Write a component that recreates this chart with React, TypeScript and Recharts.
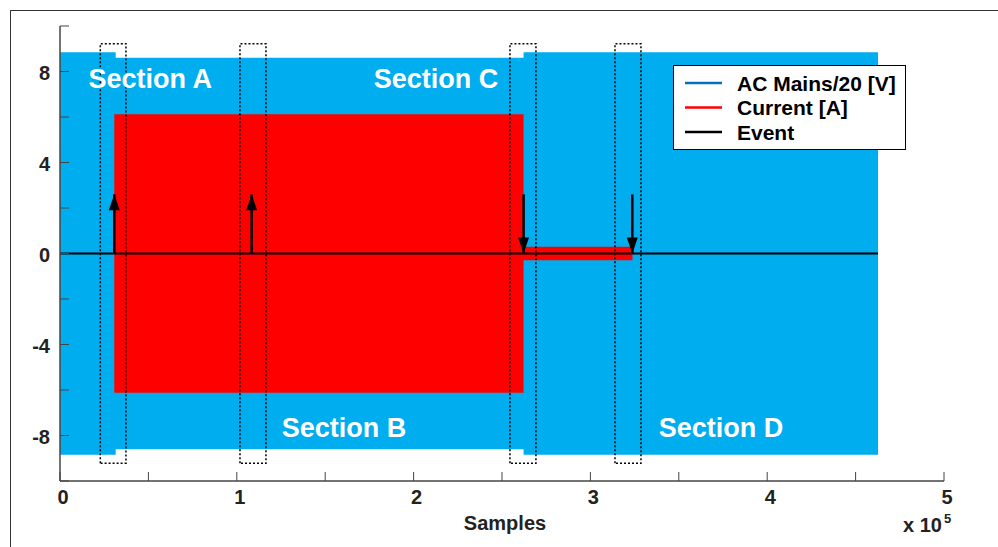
import React from "react";
import { ComposedChart, Area, Line, Scatter, XAxis, YAxis, Legend } from "recharts";

const FONT = '"Liberation Sans", Arial, Helvetica, sans-serif';
const AXIS = "#444444";
const MAINS_FILL = "#00AEEF";
const CURRENT_FILL = "#FF0000";

// sample index where the envelope of each trace changes
const sampleX = [0, 30700, 31500, 262200, 323800, 462700];
// envelope of the mains trace (V/20)
const mainsAmp = [8.85, 8.85, 8.6, 8.85, 8.85, 8.85];
// envelope of the load current (A)
const currentAmp: (number | null)[] = [null, 6.12, 6.12, 0.3, 0.3, null];

// event trace: flat line plus arrows (1 = switch on, -1 = switch off)
const eventLineX = [0, 462700];
const eventX = [30700, 108400, 262200, 323700];
const eventDir = [1, 1, -1, -1];
const eventLen = 2.6;

// dotted boxes around each event
const boxX1 = [22800, 101800, 254500, 313900];
const boxX2 = [37300, 116500, 269200, 328600];
const boxHalf = 9.22;

const sectionNames = ["Section A", "Section B", "Section C", "Section D"];
const sectionX = [51000, 160600, 212700, 373900];
const sectionY = [7.71, -7.65, 7.71, -7.65];

const xTicks = [0, 50000, 100000, 150000, 200000, 250000, 300000, 350000, 400000, 450000, 500000];
const yTicks = [-10, -8, -6, -4, -2, 0, 2, 4, 6, 8, 10];

const legendNames = ["AC Mains/20 [V]", "Current [A]", "Event"];
const legendColors = ["#0072BD", "#FF0000", "#000000"];

const envelopeData = sampleX.map((x, i) => ({
  x,
  mains: [-mainsAmp[i], mainsAmp[i]],
  current: currentAmp[i] == null ? null : [-(currentAmp[i] as number), currentAmp[i]],
}));

const zeroLine = eventLineX.map((x) => ({ x, y: 0 }));
const arrowHeads = eventX.map((x, i) => ({ x, y: eventDir[i] > 0 ? eventLen : 0, dir: eventDir[i] }));
const sectionData = sectionNames.map((name, i) => ({ x: sectionX[i], y: sectionY[i], name }));

const BottomTick = ({ x, y, payload }: any) => (
  <g>
    <line x1={x} x2={x} y1={y} y2={y - 9} stroke={AXIS} strokeWidth={1} />
    {payload.value % 100000 === 0 && (
      <text x={x + 3} y={y + 23} textAnchor="middle" fontFamily={FONT} fontSize={20} fontWeight={700} fill="#222">
        {payload.value / 100000}
      </text>
    )}
  </g>
);

const TopTick = ({ x, y }: any) => (
  <line x1={x} x2={x} y1={y} y2={y + 9} stroke={AXIS} strokeWidth={1} />
);

const LeftTick = ({ x, y, payload }: any) => (
  <g>
    <line x1={x} x2={x + 9} y1={y} y2={y} stroke={AXIS} strokeWidth={1} />
    {payload.value % 4 === 0 && Math.abs(payload.value) < 10 && (
      <text x={x - 10} y={y + 1} dy="0.36em" textAnchor="end" fontFamily={FONT} fontSize={20} fontWeight={700} fill="#222">
        {payload.value}
      </text>
    )}
  </g>
);

const RightTick = ({ x, y }: any) => (
  <line x1={x} x2={x - 9} y1={y} y2={y} stroke={AXIS} strokeWidth={1} />
);

const ArrowHead = ({ cx, cy, payload }: any) => {
  const s = payload.dir > 0 ? 1 : -1;
  const pts = `${cx},${cy} ${cx - 5.5},${cy + s * 16} ${cx + 5.5},${cy + s * 16}`;
  return <polygon points={pts} fill="#000" />;
};

const SectionLabel = ({ cx, cy, payload }: any) => (
  <text x={cx} y={cy} dy="0.36em" textAnchor="middle" fontFamily={FONT} fontSize={27} fontWeight={700} fill="#fff">
    {payload.name}
  </text>
);

const AxisTitle = ({ viewBox }: any) => {
  const { y } = viewBox;
  return (
    <g fontFamily={FONT} fontWeight={700} fill="#222">
      <text x={505} y={y + 49} textAnchor="middle" fontSize={20}>Samples</text>
      <text x={903} y={y + 51} fontSize={20}>
        x 10
        <tspan dx={2} dy={-9} fontSize={13}>5</tspan>
      </text>
    </g>
  );
};

const LegendBox = () => (
  <svg width={233} height={85} style={{ display: "block" }}>
    <rect x={0.5} y={0.5} width={232} height={84} fill="#fff" stroke="#000" strokeWidth={1} />
    {legendNames.map((name, i) => {
      const cy = 18 + i * 24.5;
      return (
        <g key={name}>
          <line x1={12} x2={49} y1={cy} y2={cy} stroke={legendColors[i]} strokeWidth={2.5} />
          <text x={64} y={cy} dy="0.36em" fontFamily={FONT} fontSize={21} fontWeight={700} fill="#000">
            {name}
          </text>
        </g>
      );
    })}
  </svg>
);

export default function App() {
  return (
    <div style={{ position: "absolute", left: 0, top: 0, width: 998, height: 547, background: "#fff" }}>
      <div
        style={{
          position: "absolute",
          left: 10,
          top: 10,
          width: 988,
          height: 537,
          borderTop: "1px solid #333",
          borderLeft: "1px solid #333",
        }}
      />
      <ComposedChart
        width={998}
        height={547}
        data={envelopeData}
        margin={{ top: 26, right: 54, left: 0, bottom: 0 }}
        style={{ position: "absolute", left: 0, top: 0 }}
      >
        <XAxis
          dataKey="x"
          type="number"
          domain={[0, 500000]}
          ticks={xTicks}
          interval={0}
          height={66}
          tickSize={0}
          tickMargin={0}
          tickLine={false}
          axisLine={{ stroke: AXIS, strokeWidth: 1.5 }}
          tick={<BottomTick />}
          label={<AxisTitle />}
          allowDataOverflow
        />
        <XAxis
          xAxisId="top"
          orientation="top"
          dataKey="x"
          type="number"
          domain={[0, 500000]}
          ticks={xTicks}
          interval={0}
          height={0}
          tickSize={0}
          tickMargin={0}
          tickLine={false}
          axisLine={{ stroke: AXIS, strokeWidth: 1.5 }}
          tick={<TopTick />}
          allowDataOverflow
        />
        <YAxis
          type="number"
          domain={[-10, 10]}
          ticks={yTicks}
          interval={0}
          width={60}
          tickSize={0}
          tickMargin={0}
          tickLine={false}
          axisLine={{ stroke: AXIS, strokeWidth: 1.5 }}
          tick={<LeftTick />}
          allowDataOverflow
        />
        <YAxis
          yAxisId="right"
          orientation="right"
          type="number"
          domain={[-10, 10]}
          ticks={yTicks}
          interval={0}
          width={0}
          tickSize={0}
          tickMargin={0}
          tickLine={false}
          axisLine={{ stroke: AXIS, strokeWidth: 1.5 }}
          tick={<RightTick />}
          allowDataOverflow
        />
        <Legend
          layout="vertical"
          align="center"
          verticalAlign="middle"
          wrapperStyle={{ left: 673, top: 65, width: 233, height: 85 }}
          content={() => <LegendBox />}
        />
        <Area
          dataKey="mains"
          type="stepAfter"
          fill={MAINS_FILL}
          fillOpacity={1}
          stroke="none"
          isAnimationActive={false}
        />
        <Area
          dataKey="current"
          type="stepAfter"
          fill={CURRENT_FILL}
          fillOpacity={1}
          stroke="none"
          isAnimationActive={false}
        />
        <Line
          data={zeroLine}
          dataKey="y"
          stroke="#000"
          strokeWidth={2}
          dot={false}
          activeDot={false}
          isAnimationActive={false}
        />
        {eventX.map((x, i) => (
          <Line
            key={`stem-${i}`}
            data={[
              { x, y: 0 },
              { x, y: eventLen },
            ]}
            dataKey="y"
            stroke="#000"
            strokeWidth={2.5}
            dot={false}
            activeDot={false}
            isAnimationActive={false}
          />
        ))}
        {boxX1.map((x1, i) => (
          <Line
            key={`box-${i}`}
            data={[
              { x: x1, y: -boxHalf },
              { x: x1, y: boxHalf },
              { x: boxX2[i], y: boxHalf },
              { x: boxX2[i], y: -boxHalf },
              { x: x1, y: -boxHalf },
            ]}
            dataKey="y"
            stroke="#000"
            strokeWidth={1.5}
            strokeDasharray="2 2"
            dot={false}
            activeDot={false}
            isAnimationActive={false}
          />
        ))}
        <Scatter data={arrowHeads} dataKey="y" shape={<ArrowHead />} isAnimationActive={false} />
        <Scatter data={sectionData} dataKey="y" shape={<SectionLabel />} isAnimationActive={false} />
      </ComposedChart>
    </div>
  );
}
